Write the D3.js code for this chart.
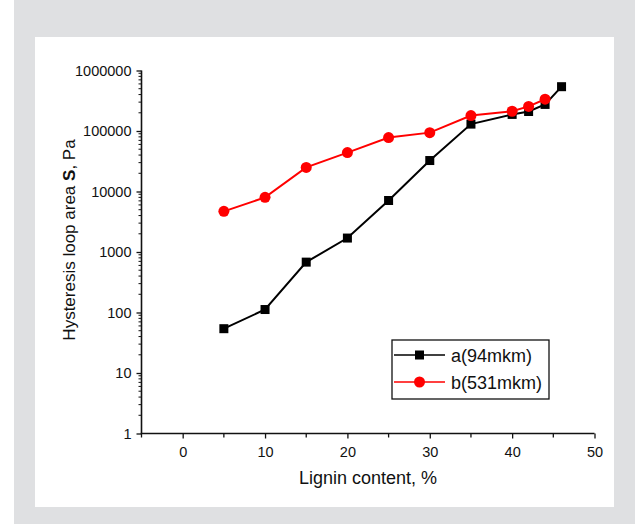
<!DOCTYPE html>
<html lang="en">
<head>
    <meta charset="UTF-8">
    <title>Hysteresis loop area vs lignin content</title>
    <script src="https://d3js.org/d3.v7.min.js"></script>
    <style>
        body {
            margin: 0;
            background-color: #fff;
        }
        svg text {
            font-family: Arial, "Liberation Sans", sans-serif;
            fill: #111;
        }
        .tick text {
            font-size: 14.5px;
        }
        .axis-title {
            font-size: 18px;
        }
        .y-title {
            font-size: 17px;
        }
        .legend-text {
            font-size: 18px;
        }
    </style>
</head>
<body>
    <svg id="chart" width="635" height="524"></svg>
    <script>
        // lignin content, %
        const ligninA = [5, 10, 15, 20, 25, 30, 35, 40, 42, 44, 46];
        const ligninB = [5, 10, 15, 20, 25, 30, 35, 40, 42, 44];
        // hysteresis loop area, Pa
        const areaA = [54, 112, 680, 1700, 7100, 32500, 130000, 188000, 210000, 275000, 540000];
        const areaB = [4700, 8000, 25000, 44000, 78000, 94000, 180000, 212000, 255000, 335000];
        const seriesNames = ["a(94mkm)", "b(531mkm)"];
        const xTicks = [0, 10, 20, 30, 40, 50];
        const yTicks = [1, 10, 100, 1000, 10000, 100000, 1000000];

        const width = 635, height = 524;
        const svg = d3.select("#chart");

        // gray page background with white panel
        svg.append("rect").attr("x", 14).attr("y", 0)
            .attr("width", width - 14).attr("height", height)
            .attr("fill", "#dfe0e2");
        svg.append("rect").attr("x", 35).attr("y", 37)
            .attr("width", 579).attr("height", 470)
            .attr("fill", "#fff");

        const x = d3.scaleLinear().domain([-5, 50]).range([141.5, 594.5]);
        const y = d3.scaleLog().domain([1, 1000000]).range([433.5, 70.5]);

        // x axis
        const xMinor = d3.range(-5, 51, 5).filter(v => v % 10 !== 0);
        const xAxis = svg.append("g").attr("transform", `translate(0,${y(1)})`);
        xAxis.call(d3.axisBottom(x).tickValues(xTicks).tickSize(5).tickSizeOuter(0).tickPadding(8));
        xAxis.selectAll(".tick line").attr("stroke", "#111").attr("stroke-width", 1.3);
        xAxis.selectAll(".minor").data(xMinor).enter().append("line")
            .attr("class", "minor")
            .attr("x1", d => x(d)).attr("x2", d => x(d))
            .attr("y1", 0).attr("y2", 4)
            .attr("stroke", "#111").attr("stroke-width", 1.3);

        // y axis (log)
        const yMinor = [];
        yTicks.slice(0, -1).forEach(t => {
            for (let k = 2; k <= 9; k++) yMinor.push(t * k);
        });
        const yAxis = svg.append("g").attr("transform", `translate(${x(-5)},0)`);
        yAxis.call(d3.axisLeft(y).tickValues(yTicks).tickFormat(d3.format("d")).tickSize(5).tickSizeOuter(0).tickPadding(5));
        yAxis.selectAll(".tick line").attr("stroke", "#111").attr("stroke-width", 1.3);
        yAxis.selectAll(".minor").data(yMinor).enter().append("line")
            .attr("class", "minor")
            .attr("x1", 0).attr("x2", -3)
            .attr("y1", d => y(d)).attr("y2", d => y(d))
            .attr("stroke", "#111").attr("stroke-width", 1);
        svg.selectAll(".domain").remove();
        xAxis.append("line").attr("x1", x(-5) - 0.8).attr("x2", x(50)).attr("stroke", "#111").attr("stroke-width", 1.6);
        yAxis.append("line").attr("y1", y(1)).attr("y2", y(1000000)).attr("stroke", "#111").attr("stroke-width", 1.6);

        // axis titles
        svg.append("text").attr("class", "axis-title")
            .attr("x", 368).attr("y", 484)
            .attr("text-anchor", "middle")
            .text("Lignin content, %");
        const yt = svg.append("text").attr("class", "y-title")
            .attr("transform", "translate(75,240) rotate(-90)")
            .attr("text-anchor", "middle");
        yt.append("tspan").text("Hysteresis loop area ");
        yt.append("tspan").attr("font-weight", "bold").text("S");
        yt.append("tspan").text(", Pa");

        const line = d3.line().x(d => x(d[0])).y(d => y(d[1]));
        const dataA = ligninA.map((v, i) => [v, areaA[i]]);
        const dataB = ligninB.map((v, i) => [v, areaB[i]]);

        // series a (black squares)
        svg.append("path").datum(dataA).attr("d", line)
            .attr("fill", "none").attr("stroke", "#000").attr("stroke-width", 2);
        svg.selectAll(".ptA").data(dataA).enter().append("rect")
            .attr("class", "ptA")
            .attr("x", d => x(d[0]) - 4.5).attr("y", d => y(d[1]) - 4.5)
            .attr("width", 9).attr("height", 9).attr("fill", "#000");

        // series b (red circles)
        svg.append("path").datum(dataB).attr("d", line)
            .attr("fill", "none").attr("stroke", "#f00").attr("stroke-width", 2);
        svg.selectAll(".ptB").data(dataB).enter().append("circle")
            .attr("class", "ptB")
            .attr("cx", d => x(d[0])).attr("cy", d => y(d[1]))
            .attr("r", 5.5).attr("fill", "#f00");

        // legend
        const lg = svg.append("g").attr("transform", "translate(392,340)");
        lg.append("rect").attr("width", 157).attr("height", 59)
            .attr("fill", "#fff").attr("stroke", "#111").attr("stroke-width", 1.3);
        seriesNames.forEach((name, i) => {
            const cy = 15 + i * 27;
            const col = i === 0 ? "#000" : "#f00";
            lg.append("line").attr("x1", 2).attr("x2", 53).attr("y1", cy).attr("y2", cy)
                .attr("stroke", col).attr("stroke-width", 1.5);
            if (i === 0) {
                lg.append("rect").attr("x", 23).attr("y", cy - 4.5).attr("width", 9).attr("height", 9).attr("fill", col);
            } else {
                lg.append("circle").attr("cx", 27.5).attr("cy", cy).attr("r", 5.5).attr("fill", col);
            }
            lg.append("text").attr("class", "legend-text")
                .attr("x", 59).attr("y", cy + 6.5).text(name);
        });
    </script>
</body>
</html>
